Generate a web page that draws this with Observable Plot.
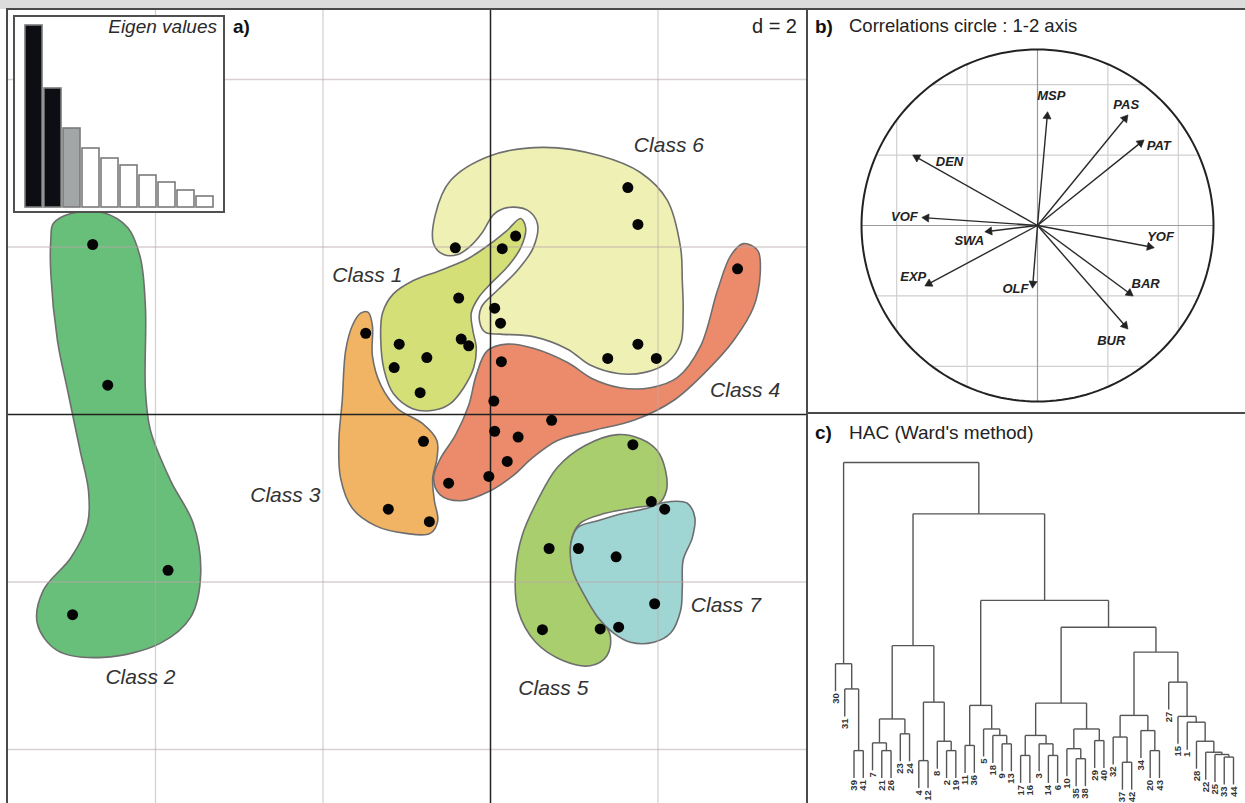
<!DOCTYPE html>
<html>
<head>
<meta charset="utf-8">
<script src="https://cdn.jsdelivr.net/npm/d3@7"></script>
<script src="https://cdn.jsdelivr.net/npm/@observablehq/plot@0.6"></script>
<style>
  body { margin: 0; background: #fff; font-family: "Liberation Sans", Arial, sans-serif; }
  #fig { position: relative; width: 1245px; height: 803px; overflow: hidden; background: #fff; }
  .abs { position: absolute; }
  .txt { position: absolute; white-space: nowrap; color: #222; line-height: 1; }
  .abs svg { max-width: none !important; }
</style>
</head>
<body>
<div id="fig">
  <div class="abs" style="left:0;top:0;width:1245px;height:9px;background:#dcdcdc"></div>
  <div id="pa" class="abs" style="left:8px;top:10px;width:799px;height:793px"></div>
  <div id="pe" class="abs" style="left:13px;top:15px;width:212px;height:198px;box-sizing:border-box;border:2px solid #505050;background:#fff"></div>
  <div id="pb" class="abs" style="left:809px;top:10px;width:436px;height:403px"></div>
  <div id="pc" class="abs" style="left:809px;top:415px;width:436px;height:388px"></div>

  <div class="abs" style="left:6px;top:8px;width:1239px;height:2px;background:#4a4a4a"></div>
  <div class="abs" style="left:6px;top:8px;width:2px;height:795px;background:#4a4a4a"></div>
  <div class="abs" style="left:806px;top:8px;width:2px;height:795px;background:#4a4a4a"></div>
  <div class="abs" style="left:806px;top:412px;width:439px;height:2px;background:#4a4a4a"></div>

  <div class="txt" style="right:1028px;top:17px;font-size:19px;font-style:italic;color:#2a2a2a">Eigen values</div>
  <div class="txt" style="left:233px;top:17px;font-size:19px;font-weight:bold;color:#111">a)</div>
  <div class="txt" style="right:448px;top:16px;font-size:20px;color:#222">d = 2</div>
  <div class="txt" style="left:815px;top:17px;font-size:19px;font-weight:bold;color:#111">b)</div>
  <div class="txt" style="left:849px;top:17px;font-size:18.5px;color:#222">Correlations circle : 1-2 axis</div>
  <div class="txt" style="left:815px;top:423px;font-size:19px;font-weight:bold;color:#111">c)</div>
  <div class="txt" style="left:849px;top:423px;font-size:19px;color:#222">HAC (Ward's method)</div>
</div>

<script>
// ---------------- Panel a) : PCA factorial map (d = 2) ----------------
const classNames = ["Class 1", "Class 2", "Class 3", "Class 4", "Class 5", "Class 6", "Class 7"];
const classLabelX = [-1.47, -4.18, -2.45, 3.04, 0.75, 2.13, 2.81];
const classLabelY = [1.66, -3.14, -0.96, 0.29, -3.27, 3.21, -2.28];
const gridTicksX = [-4, -2, 2];
const gridTicksY = [-4, -2, 2, 4];

const class1Outline = [[0.36,2.34],[0.42,2.23],[0.36,1.99],[0.20,1.76],[0.00,1.56],[-0.14,1.40],[-0.23,1.21],[-0.21,1.00],[-0.17,0.80],[-0.20,0.56],[-0.32,0.32],[-0.48,0.13],[-0.68,0.05],[-0.93,0.07],[-1.16,0.25],[-1.27,0.53],[-1.31,0.88],[-1.29,1.21],[-1.16,1.44],[-0.92,1.60],[-0.60,1.72],[-0.27,1.86],[0.00,2.04],[0.20,2.20]];
const class2Outline = [[-5.22,2.28],[-5.01,2.40],[-4.62,2.41],[-4.33,2.23],[-4.18,1.87],[-4.12,1.28],[-4.12,0.29],[-4.06,-0.19],[-3.82,-0.79],[-3.55,-1.30],[-3.46,-1.90],[-3.58,-2.42],[-3.94,-2.73],[-4.62,-2.90],[-5.17,-2.82],[-5.41,-2.50],[-5.34,-2.10],[-5.01,-1.71],[-4.81,-1.30],[-4.80,-0.91],[-4.90,-0.43],[-5.05,0.29],[-5.17,0.88],[-5.25,1.68],[-5.25,2.08]];
const class3Outline = [[-1.46,1.22],[-1.41,1.06],[-1.41,0.70],[-1.31,0.35],[-1.11,0.07],[-0.81,-0.11],[-0.64,-0.31],[-0.64,-0.53],[-0.69,-0.76],[-0.67,-1.03],[-0.63,-1.27],[-0.72,-1.42],[-1.01,-1.42],[-1.37,-1.33],[-1.65,-1.12],[-1.79,-0.76],[-1.81,-0.31],[-1.77,0.17],[-1.73,0.76],[-1.65,1.06],[-1.55,1.21]];
const class4Outline = [[-0.04,0.76],[0.20,0.84],[0.51,0.79],[0.92,0.62],[1.23,0.42],[1.55,0.32],[1.91,0.32],[2.23,0.44],[2.51,0.82],[2.71,1.48],[2.87,1.90],[3.02,2.04],[3.19,1.96],[3.22,1.68],[3.14,1.28],[2.90,0.88],[2.59,0.53],[2.19,0.17],[1.71,-0.07],[1.23,-0.19],[0.80,-0.31],[0.51,-0.51],[0.27,-0.73],[0.00,-0.91],[-0.36,-1.03],[-0.60,-0.96],[-0.68,-0.76],[-0.60,-0.53],[-0.42,-0.25],[-0.26,0.11],[-0.17,0.47]];
const class5Outline = [[1.52,-0.24],[1.79,-0.29],[1.99,-0.43],[2.09,-0.67],[2.10,-0.91],[2.01,-1.06],[1.73,-1.11],[1.37,-1.18],[1.07,-1.30],[0.96,-1.53],[0.99,-1.80],[1.12,-2.10],[1.29,-2.40],[1.43,-2.64],[1.39,-2.88],[1.19,-3.00],[0.87,-2.94],[0.54,-2.72],[0.33,-2.34],[0.30,-1.86],[0.38,-1.44],[0.56,-1.03],[0.80,-0.63],[1.13,-0.37]];
const class6Outline = [[0.63,3.19],[1.31,3.09],[1.79,2.89],[2.11,2.56],[2.27,1.99],[2.29,1.60],[2.30,1.21],[2.27,0.85],[2.11,0.62],[1.83,0.50],[1.52,0.49],[1.19,0.59],[0.92,0.78],[0.51,0.93],[0.12,0.96],[-0.06,0.98],[-0.13,1.11],[-0.11,1.28],[0.08,1.48],[0.32,1.72],[0.51,1.99],[0.56,2.28],[0.44,2.44],[0.20,2.47],[0.04,2.39],[-0.10,2.17],[-0.24,2.01],[-0.39,1.91],[-0.56,1.91],[-0.68,2.04],[-0.66,2.38],[-0.48,2.79],[0.00,3.09]];
const class7Outline = [[2.07,-1.05],[2.35,-1.06],[2.44,-1.23],[2.41,-1.47],[2.30,-1.74],[2.29,-2.07],[2.27,-2.34],[2.15,-2.61],[1.95,-2.72],[1.67,-2.72],[1.47,-2.61],[1.28,-2.42],[1.11,-2.14],[0.98,-1.86],[0.96,-1.54],[1.04,-1.35],[1.28,-1.27],[1.59,-1.18],[1.87,-1.12]];

const class1Points = [[0.14,1.98],[0.30,2.13],[-0.38,1.39],[-0.35,0.90],[-0.26,0.82],[-1.09,0.84],[-0.76,0.68],[-1.15,0.56],[-0.84,0.26]];
const class2Points = [[-4.75,2.03],[-4.57,0.35],[-3.85,-1.86],[-4.99,-2.39]];
const class3Points = [[-1.49,0.97],[-0.80,-0.32],[-1.22,-1.13],[-0.73,-1.28]];
const class4Points = [[0.13,0.63],[0.04,0.16],[0.73,-0.07],[0.05,-0.20],[0.33,-0.27],[0.20,-0.56],[-0.02,-0.74],[-0.50,-0.82],[2.95,1.74]];
const class5Points = [[1.70,-0.36],[1.92,-1.04],[0.70,-1.60],[0.62,-2.57],[1.31,-2.56]];
const class6Points = [[1.64,2.71],[1.76,2.27],[-0.42,1.99],[0.05,1.27],[0.12,1.09],[1.76,0.84],[1.40,0.67],[1.98,0.67]];
const class7Points = [[2.08,-1.13],[1.05,-1.60],[1.50,-1.70],[1.96,-2.26],[1.53,-2.54]];

// ---------------- Eigen values inset ----------------
const eigenValues = [3.64, 2.38, 1.58, 1.18, 0.98, 0.84, 0.64, 0.50, 0.34, 0.22];

// ---------------- Panel b) : correlation circle ----------------
const varNames  = ["MSP", "PAS", "PAT", "DEN", "VOF", "SWA", "EXP", "OLF", "YOF", "BAR", "BUR"];
const varX      = [0.057, 0.511, 0.602, -0.705, -0.653, -0.295, -0.636, -0.028, 0.659, 0.540, 0.511];
const varY      = [0.642, 0.625, 0.483, 0.398, 0.045, -0.035, -0.341, -0.352, -0.125, -0.398, -0.585];
const varLabelX = [0.078, 0.504, 0.689, -0.500, -0.756, -0.388, -0.706, -0.125, 0.699, 0.614, 0.419];
const varLabelY = [0.737, 0.688, 0.455, 0.360, 0.047, -0.089, -0.294, -0.360, -0.066, -0.331, -0.653];
const circleGrid = [-0.8, -0.4, 0, 0.4, 0.8];

// ---------------- Panel c) : HAC dendrogram (Ward) ----------------
const leafLabels = ["30","31","39","41","7","21","26","23","24","4","12","8","2","19","11","36","5","18","9","13","17","16","3","14","6","10","35","38","29","40","32","37","42","34","20","43","27","15","1","28","22","25","33","44"];
// hclust-style merge table: negative = leaf position, positive = earlier merge row
const mergeLeft   = [-32,-10,-27,-43,-21,-24,-42,-41,-3,-6,-13,-35,-26,-15,-19,-23,-5,-12,-40,-29,-31,-18, 5,-8,-34,-17,13,-39,17,-38,21,14,23, 2,-2,-37,-1,31,29,33,32,39,37];
const mergeRight  = [-33,-11,-28,-44,-22,-25,  4,  7,-4,-7,-14,-36,  3,-16,-20,  6,10,11,  8,-30,  1, 15,16,-9, 12, 22,20, 19,24, 28,25,26,27,18, 9, 30,35,36,34,38,40,41,42];
const mergeHeight = [0.72,0.77,0.83,0.88,0.93,0.93,0.96,1.03,1.08,1.08,1.08,1.08,1.14,1.24,1.29,1.29,1.32,1.37,1.37,1.39,1.50,1.55,1.55,1.60,1.70,1.75,1.75,1.96,2.06,2.14,2.17,2.48,2.55,2.58,2.99,3.20,3.77,4.13,4.33,4.90,5.73,8.41,10.0];

// ======================================================================
const font = "Liberation Sans, Arial, sans-serif";
const palette = {
  "Class 1": "#d4df78", "Class 2": "#67bf7a", "Class 3": "#f1b464", "Class 4": "#ec8b6b",
  "Class 5": "#a8ce6d", "Class 6": "#eef0b4", "Class 7": "#9fd5d3"
};
const outlines = {"Class 1": class1Outline, "Class 2": class2Outline, "Class 3": class3Outline, "Class 4": class4Outline,
                  "Class 5": class5Outline, "Class 6": class6Outline, "Class 7": class7Outline};
const drawOrder = ["Class 2", "Class 6", "Class 3", "Class 1", "Class 4", "Class 5", "Class 7"];
const allPoints = [class1Points, class2Points, class3Points, class4Points, class5Points, class6Points, class7Points].flat();
const classLabels = classNames.map((name, i) => ({name, x: classLabelX[i], y: classLabelY[i]}));

const blobMarks = drawOrder.map(name => Plot.line(outlines[name], {
  x: d => d[0], y: d => d[1], curve: "catmull-rom-closed",
  fill: palette[name], stroke: "#6e6e6e", strokeWidth: 1.6
}));

const plotA = Plot.plot({
  width: 799, height: 793,
  marginTop: 0, marginRight: 0, marginBottom: 0, marginLeft: 0,
  style: {fontFamily: font, background: "#fff"},
  x: {domain: [-5.755, 3.785], axis: null},
  y: {domain: [-4.645, 4.824], axis: null},
  marks: [
    ...blobMarks,
    Plot.ruleX(gridTicksX, {stroke: "#b9a9a9", strokeOpacity: 0.55, strokeWidth: 1.3}),
    Plot.ruleY(gridTicksY, {stroke: "#b9a9a9", strokeOpacity: 0.55, strokeWidth: 1.3}),
    Plot.ruleX([0], {stroke: "#222", strokeWidth: 1.5}),
    Plot.ruleY([0], {stroke: "#222", strokeWidth: 1.5}),
    Plot.dot(allPoints, {x: d => d[0], y: d => d[1], r: 5.5, fill: "#050505", stroke: "none"}),
    Plot.text(classLabels, {x: "x", y: "y", text: "name", fontSize: 21, fontStyle: "italic", fill: "#333"})
  ]
});
document.getElementById("pa").appendChild(plotA);

// Eigen values inset
const eig = eigenValues.map((v, i) => ({i, v}));
const plotE = Plot.plot({
  width: 208, height: 194,
  marginTop: 8, marginRight: 5, marginBottom: 4, marginLeft: 5,
  style: {fontFamily: font, background: "#fff"},
  x: {type: "band", domain: d3.range(eigenValues.length), padding: 0.1, axis: null},
  y: {domain: [0, d3.max(eigenValues)], axis: null},
  marks: [
    Plot.barY(eig, {x: "i", y: "v", fill: d => d.i < 2 ? "#0d0d14" : d.i === 2 ? "#a2a6a6" : "#ffffff",
                    stroke: "#7a7a7a", strokeWidth: 1.6})
  ]
});
document.getElementById("pe").appendChild(plotE);

// Correlation circle
const circle = d3.range(0, 361, 2).map(a => [Math.cos(a * Math.PI / 180), Math.sin(a * Math.PI / 180)]);
const gridSegs = circleGrid.flatMap(g => {
  const s = Math.sqrt(1 - g * g);
  return [{x1: g, y1: -s, x2: g, y2: s, axis: g === 0}, {x1: -s, y1: g, x2: s, y2: g, axis: g === 0}];
});
const vars = varNames.map((name, i) => {
  const len = Math.hypot(varX[i], varY[i]);
  return {name, x: varX[i], y: varY[i], lx: varLabelX[i], ly: varLabelY[i],
          hx: varX[i] - 0.022 * varX[i] / len, hy: varY[i] - 0.022 * varY[i] / len,
          angle: 90 - Math.atan2(varY[i], varX[i]) * 180 / Math.PI};
});
const plotB = Plot.plot({
  width: 436, height: 403,
  marginTop: 0, marginRight: 0, marginBottom: 0, marginLeft: 0,
  style: {fontFamily: font, background: "#fff"},
  x: {domain: [-1.2955, 1.1818], axis: null},
  y: {domain: [-1.0682, 1.2216], axis: null},
  marks: [
    Plot.link(gridSegs.filter(d => !d.axis), {x1: "x1", y1: "y1", x2: "x2", y2: "y2", stroke: "#cfcfcf", strokeWidth: 1.2}),
    Plot.link(gridSegs.filter(d => d.axis), {x1: "x1", y1: "y1", x2: "x2", y2: "y2", stroke: "#9a9a9a", strokeWidth: 1.2}),
    Plot.line(circle, {x: d => d[0], y: d => d[1], stroke: "#222", strokeWidth: 2}),
    Plot.link(vars, {x1: 0, y1: 0, x2: "hx", y2: "hy", stroke: "#2a2a2a", strokeWidth: 1.4}),
    Plot.dot(vars, {x: "hx", y: "hy", symbol: "triangle", r: 3, rotate: "angle", fill: "#222", stroke: "#222", strokeWidth: 0.6}),
    Plot.text(vars, {x: "lx", y: "ly", text: "name", fontSize: 13, fontWeight: "bold", fontStyle: "italic", fill: "#222"})
  ]
});
document.getElementById("pb").appendChild(plotB);

// Dendrogram
const hang = 0.85;
const nodeX = [], nodeH = [], segs = [];
const leafEnd = new Array(leafLabels.length);
mergeLeft.forEach((a, i) => {
  const b = mergeRight[i], h = mergeHeight[i];
  const cx = c => c < 0 ? -c : nodeX[c - 1];
  const cy = c => { if (c < 0) { leafEnd[-c - 1] = h - hang; return h - hang; } return nodeH[c - 1]; };
  const xa = cx(a), xb = cx(b);
  segs.push({x1: xa, y1: cy(a), x2: xa, y2: h});
  segs.push({x1: xb, y1: cy(b), x2: xb, y2: h});
  segs.push({x1: xa, y1: h, x2: xb, y2: h});
  nodeX[i] = (xa + xb) / 2;
  nodeH[i] = h;
});
const leaves = leafLabels.map((t, i) => ({x: i + 1, y: leafEnd[i], t}));
const plotC = Plot.plot({
  width: 436, height: 388,
  marginTop: 47, marginRight: 12, marginBottom: 18, marginLeft: 26,
  style: {fontFamily: font, background: "#fff"},
  x: {domain: [1, leafLabels.length], axis: null},
  y: {domain: [0, 10], axis: null},
  marks: [
    Plot.link(segs, {x1: "x1", y1: "y1", x2: "x2", y2: "y2", stroke: "#555", strokeWidth: 1.4}),
    Plot.text(leaves, {x: "x", y: "y", text: "t", rotate: -90, textAnchor: "end", dy: 2, fontSize: 9.5, fontWeight: "bold", fill: "#333"})
  ]
});
document.getElementById("pc").appendChild(plotC);
</script>
</body>
</html>
